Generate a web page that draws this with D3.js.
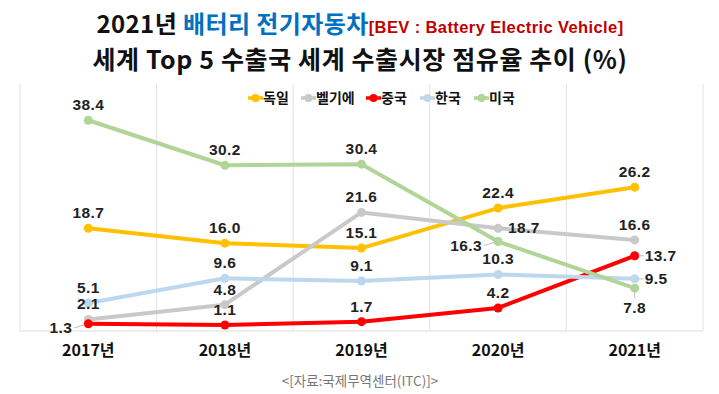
<!DOCTYPE html>
<html>
<head>
<meta charset="utf-8">
<style>
    body { margin: 0; background: #fff; }
    svg { display: block; }
    .lbl { font-family: "Liberation Sans", Arial, sans-serif; font-weight: bold; font-size: 15.5px; fill: #222; letter-spacing: 0.4px; }
    .ko { font-family: "Noto Sans CJK KR", sans-serif; font-weight: bold; }
</style>
</head>
<body>
<script src="https://d3js.org/d3.v7.min.js"></script>
<script>

    var years = ["2017년", "2018년", "2019년", "2020년", "2021년"];
    var countries = ["독일", "벨기에", "중국", "한국", "미국"];

    var germany = [18.7, 16.0, 15.1, 22.4, 26.2];
    var belgium = [2.1, 4.8, 21.6, 18.7, 16.6];
    var china = [1.3, 1.1, 1.7, 4.2, 13.7];
    var korea = [5.1, 9.6, 9.1, 10.3, 9.5];
    var usa = [38.4, 30.2, 30.4, 16.3, 7.8];

    var values = [germany, belgium, china, korea, usa];
    var colors = ["#FFC000", "#C9C9C9", "#FF0000", "#BDD7EE", "#B0D596"];

    // where each data label sits relative to its point (a=above, l=left, r=right, b=below)
    var place = [
        ["a", "a", "a", "a", "a"],
        ["a", "a", "a", "r", "a"],
        ["l", "a", "a", "a", "r"],
        ["a", "a", "a", "a", "r"],
        ["a", "a", "a", "l", "b"]
    ];

    var width = 719, height = 394;
    var svg = d3.select("body").append("svg")
        .attr("width", width)
        .attr("height", height);

    var x = d3.scaleBand().domain(years).range([20, 703]);
    var y = d3.scaleLinear().domain([0, 45]).range([331, 84]);

    // title
    var t1 = svg.append("text").attr("class", "ko")
        .attr("x", 360).attr("y", 33).attr("text-anchor", "middle")
        .style("font-size", "24px").style("letter-spacing", "0.4px");
    t1.append("tspan").attr("fill", "#111").text("2021년 ");
    t1.append("tspan").attr("fill", "#0070C0").text("배터리 전기자동차");
    t1.append("tspan").attr("fill", "#C00000")
        .style("font-family", "'Liberation Sans', Arial, sans-serif")
        .style("font-size", "16.5px").text("[BEV : Battery Electric Vehicle]");

    svg.append("text").attr("class", "ko")
        .attr("x", 360).attr("y", 69).attr("text-anchor", "middle")
        .style("font-size", "25px").style("letter-spacing", "0.6px")
        .attr("fill", "#111")
        .text("세계 Top 5 수출국 세계 수출시장 점유율 추이 (%)");

    // grid
    var edges = years.map(function(d) { return x(d); }).concat([x.range()[1]]);
    svg.append("g").selectAll("line")
        .data(edges)
        .enter().append("line")
        .attr("x1", function(d) { return d; })
        .attr("x2", function(d) { return d; })
        .attr("y1", y(45)).attr("y2", y(0))
        .attr("stroke", "#e3e3e3");

    svg.append("line")
        .attr("x1", x.range()[0]).attr("x2", x.range()[1])
        .attr("y1", y(0)).attr("y2", y(0))
        .attr("stroke", "#dcdcdc");

    // x axis labels
    var xAxis = d3.axisBottom(x).tickSize(0).tickPadding(0);
    var ax = svg.append("g").attr("transform", "translate(0," + (y(0) + 11) + ")").call(xAxis);
    ax.select(".domain").remove();
    ax.selectAll("text")
        .attr("class", "ko")
        .attr("dy", "0.9em")
        .style("font-size", "16px")
        .attr("fill", "#111");

    // legend
    var legendX = [248, 301, 366, 420, 474];
    var lg = svg.append("g").selectAll("g")
        .data(countries)
        .enter().append("g")
        .attr("transform", function(d, i) { return "translate(" + legendX[i] + ",98)"; });
    lg.append("line").attr("x1", 0).attr("x2", 15)
        .attr("stroke", function(d, i) { return colors[i]; })
        .attr("stroke-width", 3.5);
    lg.append("circle").attr("cx", 7.5).attr("r", 4)
        .attr("fill", function(d, i) { return colors[i]; });
    lg.append("text").attr("class", "ko")
        .attr("x", 15).attr("dy", "0.36em")
        .style("font-size", "14px").attr("fill", "#111")
        .text(function(d) { return d; });

    var cx = function(i) { return x(years[i]) + x.bandwidth() / 2; };

    var line = d3.line()
        .x(function(d, i) { return cx(i); })
        .y(function(d) { return y(d); });

    var series = svg.append("g").selectAll("g")
        .data(values)
        .enter().append("g");

    series.append("path")
        .attr("d", line)
        .attr("fill", "none")
        .attr("stroke", function(d, i) { return colors[i]; })
        .attr("stroke-width", 4)
        .attr("stroke-linejoin", "round");

    series.each(function(vals, s) {
        d3.select(this).selectAll("circle")
            .data(vals)
            .enter().append("circle")
            .attr("cx", function(d, i) { return cx(i); })
            .attr("cy", function(d) { return y(d); })
            .attr("r", 4.5)
            .attr("fill", colors[s]);
    });

    // data labels
    var labels = svg.append("g");
    values.forEach(function(vals, s) {
        vals.forEach(function(v, i) {
            var px = cx(i), py = y(v), p = place[s][i];
            var tx = px, ty = py - 10, anchor = "middle";
            if (p === "l") {
                tx = px - 16; ty = py + 9; anchor = "end";
                labels.append("line")
                    .attr("x1", px - 4).attr("y1", py + 1)
                    .attr("x2", px - 14).attr("y2", py + 4)
                    .attr("stroke", "#bbb");
            } else if (p === "r") {
                tx = px + 10; ty = py + 5; anchor = "start";
                labels.append("line")
                    .attr("x1", px + 4).attr("y1", py)
                    .attr("x2", px + 9).attr("y2", py)
                    .attr("stroke", "#bbb");
            } else if (p === "b") {
                ty = py + 25;
                labels.append("line")
                    .attr("x1", px).attr("y1", py + 4)
                    .attr("x2", px).attr("y2", py + 10)
                    .attr("stroke", "#bbb");
            }
            labels.append("text")
                .attr("class", "lbl")
                .attr("x", tx).attr("y", ty)
                .attr("text-anchor", anchor)
                .text(v.toFixed(1));
        });
    });

    // source
    svg.append("text")
        .attr("x", 360).attr("y", 386)
        .attr("text-anchor", "middle")
        .style("font-family", "'Noto Sans CJK KR', sans-serif")
        .style("font-size", "13.5px")
        .attr("fill", "#777")
        .text("<[자료:국제무역센터(ITC)]>");

</script>
</body>
</html>
